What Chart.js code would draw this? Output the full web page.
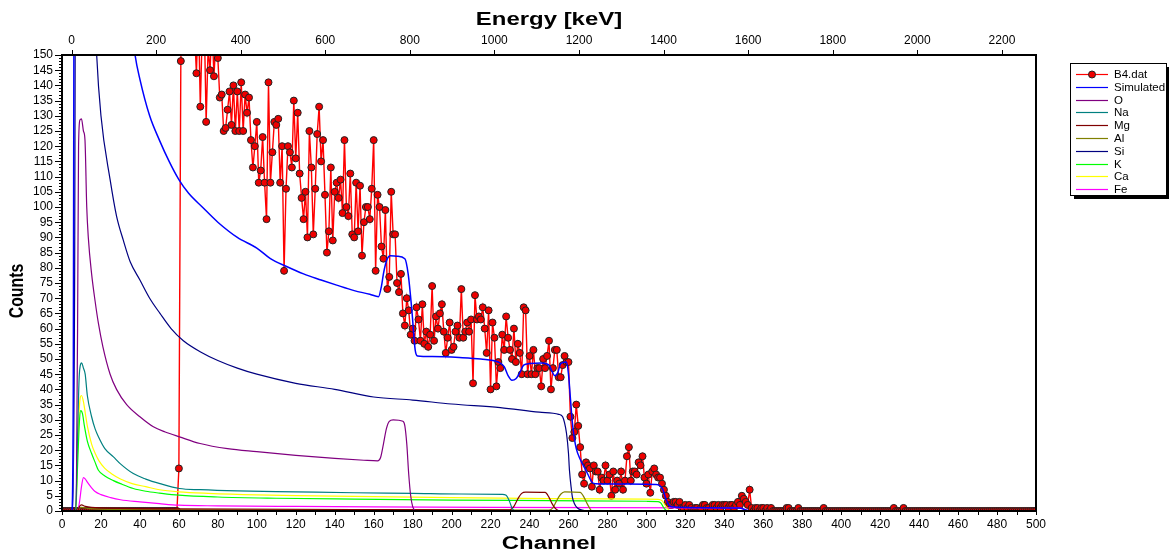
<!DOCTYPE html>
<html>
<head>
<meta charset="utf-8">
<script src="https://cdn.jsdelivr.net/npm/chart.js@4.4.1/dist/chart.umd.min.js"></script>
<style>
  html, body { margin: 0; padding: 0; background: #fff; }
  canvas { display: block; }
</style>
</head>
<body>
<canvas id="spectrum" width="1169" height="557"></canvas>
<script>
const FONT = "'Liberation Sans', Arial, sans-serif";

// B4.dat - measured counts, one value per channel (0..500)
const counts = [
  0,0,0,0,0,0,0,0,0,0, 0,0,0,0,0,0,0,0,0,0,
  0,0,0,0,0,0,0,0,0,0, 0,0,0,0,0,0,0,0,0,0,
  0,0,0,0,0,0,0,0,0,0, 0,0,0,0,0,0,0,0,0,0,
  14,148,175,190,168,182,160,172,158,144, 165,133,158,162,128,152,145,160,143,155,
  149,136,137,125,126,132,138,127,140,125, 138,125,141,125,137,131,136,122,113,120,
  128,108,112,123,108,96,141,108,118,128, 127,129,108,120,79,106,120,118,113,135,
  116,131,111,103,96,105,90,125,113,91, 106,124,133,115,122,104,85,92,113,89,
  105,108,103,109,98,122,100,97,111,91, 90,108,92,107,84,95,100,100,96,106,
  122,79,104,100,87,83,99,73,77,105, 91,91,75,72,78,65,61,70,66,58,
  60,56,67,63,56,68,55,59,54,58, 74,56,64,60,65,68,59,52,57,62,
  53,54,59,61,57,73,57,59,62,59, 63,42,71,63,64,63,67,60,52,66,
  40,62,57,41,49,47,58,53,64,57, 53,50,60,49,55,52,45,67,66,45,
  51,45,53,45,47,47,41,50,47,51, 56,40,47,53,53,44,44,48,51,49,
  49,31,24,26,35,28,21,12,9,16, 15,14,8,15,13,13,7,11,10,15,
  10,12,5,13,7,10,9,13,7,10, 18,21,10,13,13,12,16,15,18,11,
  9,12,6,13,14,12,11,11,9,7, 5,3,2,2,3,3,2,3,1,1,
  2,1,2,1,0,1,1,0,1,2, 2,1,1,0,2,2,1,2,1,2,
  2,2,1,2,2,1,2,3,2,5, 4,3,2,7,1,0,1,1,0,1,
  1,0,1,0,1,0,0,0,0,0, 0,0,1,1,0,0,0,0,1,0,
  0,0,0,0,0,0,0,0,0,0, 0,1,0,0,0,0,0,0,0,0,
  0,0,0,0,0,0,0,0,0,0, 0,0,0,0,0,0,0,0,0,0,
  0,0,0,0,0,0,0,1,0,0, 0,0,1,0,0,0,0,0,0,0,
  0,0,0,0,0,0,0,0,0,0, 0,0,0,0,0,0,0,0,0,0,
  0,0,0,0,0,0,0,0,0,0, 0,0,0,0,0,0,0,0,0,0,
  0,0,0,0,0,0,0,0,0,0, 0,0,0,0,0,0,0,0,0,0,
  0
];
const channels = counts.map((_, i) => i);

// simulated total
const simCh  = [0, 5, 5.8, 6.5, 7.5, 9, 12, 16, 20, 25,
                30, 34, 37.5, 40, 45, 50, 55, 60, 65, 72,
                80, 90, 100, 107, 115, 124, 133, 141, 150, 158,
                162.5, 164, 165, 166, 167, 168.5, 172, 176, 177.7, 179.6,
                181.3, 182.5, 190, 204, 215, 224, 227, 229, 231, 233,
                235, 237, 240, 246, 250, 251.5, 253, 254.5, 256, 259,
                260, 261, 262, 263, 264, 266, 268, 270, 272, 274,
                290, 305, 307, 308.5, 310, 311.5, 314, 330, 348, 350,
                352, 355, 360, 500];
const simCnt = [0, 0, 40, 300, 900, 1200, 900, 600, 420, 280,
                210, 170, 150, 142, 130, 122, 115, 109, 104.5, 100,
                95, 90, 86.5, 83, 80.5, 78, 76, 74.3, 72.5, 71.3,
                70.5, 74, 78, 81, 83, 84, 83.8, 83, 78, 66,
                53, 51, 50.8, 50.5, 50, 49, 47.5, 44.5, 43, 43.5,
                45.5, 48, 48.5, 48.7, 48, 46, 44.5, 45.5, 48.5, 49,
                45, 37, 29, 24, 20.5, 17, 14.5, 12, 9.5, 9,
                8.9, 8.7, 8.3, 7, 4, 2, 1.3, 1.1, 1, 0.6,
                0.2, 0, 0, 0];

// element contributions
const oCh  = [0, 7, 8, 8.5, 9.2, 10, 11, 11.8, 12.7, 13.5, 15.2, 17, 18.7, 21, 24.7, 28, 33.2, 40, 46.9, 53,
              60.3, 70.9, 85, 100, 120, 140, 155, 162, 163.5, 165, 166.5, 168, 170, 175, 176, 177, 178, 179, 180, 181, 182, 500];
const oCnt = [0, 0, 60, 120, 128.6, 129, 125, 122, 100, 90, 78, 69, 61.7, 54, 45, 40, 35, 31, 27.7, 26,
              24.4, 22.2, 20.5, 19.5, 18.3, 17.3, 16.7, 16.5, 17.5, 22, 27, 29.5, 30, 29.5, 28, 22, 12, 5, 1.5, 0.3, 0, 0];

const naCh  = [0, 7, 8, 8.9, 10.1, 11, 11.9, 13, 15.2, 17, 18.7, 22, 26.4, 30, 36.6, 43, 50.3, 60.3, 71, 90,
               120, 150, 180, 205, 226, 228, 229.5, 231, 232, 233, 500];
const naCnt = [0, 0, 25, 45, 48.7, 47, 45, 38, 31, 27, 24.4, 20.5, 17.8, 15.5, 12.3, 10.5, 9, 7.4, 7, 6.6,
               6.3, 6, 5.8, 5.6, 5.5, 5.2, 3.5, 1, 0.2, 0, 0];

const mgCh  = [0, 8, 9, 10, 12, 20, 60, 150, 230, 232, 234, 236, 238, 248, 250, 251.5, 253, 254.5, 256, 500];
const mgCnt = [0, 0, 1.5, 2, 1.5, 1, 0.7, 0.5, 0.4, 1.5, 4, 5.8, 6.2, 6.1, 4.5, 2.5, 1, 0.2, 0, 0];

const alCh  = [0, 8, 9, 10, 14, 30, 100, 250, 252, 254, 256, 258, 266, 268, 269.5, 271, 272, 500];
const alCnt = [0, 0, 1, 1.2, 0.8, 0.5, 0.4, 0.3, 1, 3.5, 5.5, 6.3, 6.1, 4.5, 2.5, 0.8, 0, 0];

const siCh  = [0, 5.5, 6.5, 7.3, 9, 12, 15, 17.8, 20, 24.7, 28, 31.5, 35, 40, 45, 50.3, 56, 62.3, 70.9, 80,
               90, 100, 120, 140, 160, 180, 200, 225, 245, 255, 257, 258, 259, 260, 260.5, 261.5, 262, 263, 264.6, 267,
               271, 500];
const siCnt = [0, 0, 80, 300, 500, 320, 200, 150, 130, 109, 97, 89, 82, 76, 70, 65, 60, 56, 52.4, 49.5,
               47, 45, 42, 40, 37.5, 36.5, 35.2, 34, 32.5, 31.8, 31, 29, 25.5, 19, 13.4, 7, 4.6, 2.5, 1, 0.3,
               0, 0];

const kCh  = [0, 7, 8, 9, 9.6, 10.5, 11.5, 13, 15.2, 17, 18.7, 22, 26.4, 30, 36.6, 43, 50, 60, 80, 110,
              150, 200, 250, 300, 306, 307.5, 308.5, 309.6, 311, 500];
const kCnt = [0, 0, 15, 30, 33, 32, 28, 23, 18.9, 16, 13.4, 11.5, 10, 9, 7.4, 6.5, 5.9, 5.2, 4.6, 4.2,
              3.9, 3.6, 3.4, 3.2, 3.1, 2.6, 1.5, 0.5, 0, 0];

const caCh  = [0, 7, 8, 9, 10, 11, 12, 13, 15.2, 17, 19, 22, 26, 30, 36, 43, 50, 60, 75, 100,
               130, 160, 200, 250, 300, 306, 308, 309.5, 311, 312, 313, 500];
const caCnt = [0, 0, 20, 35, 38, 36, 32, 28, 22, 19, 16.5, 14, 12, 10.5, 9, 8, 7, 6.3, 5.8, 5.3,
               5, 4.7, 4.4, 4.1, 3.9, 3.85, 3.4, 2, 0.7, 0.1, 0, 0];

const feCh  = [0, 8, 9, 10, 11, 12, 13, 15, 17, 20, 25, 30, 40, 50, 60, 80, 120, 160, 220, 280,
               340, 348, 350, 352, 354, 500];
const feCnt = [0, 0, 3, 8, 11, 10.5, 9.5, 7.8, 6.4, 5.4, 4.4, 3.7, 3, 2.4, 1.9, 1.7, 1.5, 1.35, 1.2, 1.1,
               1.05, 1, 0.6, 0.2, 0, 0];

// channel -> energy calibration of the top axis
const energyAtCh0 = -22.5;
const energyAtCh500 = 2280.5;

function pts(xs, ys) {
  return xs.map((x, i) => ({ x: x, y: ys[i] }));
}

function curve(label, color, xs, ys, width) {
  return {
    label: label,
    data: pts(xs, ys),
    borderColor: color,
    backgroundColor: color,
    borderWidth: width || 1.2,
    pointRadius: 0,
    cubicInterpolationMode: 'monotone',
    fill: false
  };
}

// ticks + frame drawn over the plot
const frameTicks = {
  id: 'frameTicks',
  afterDraw(chart) {
    const { ctx, chartArea: a, scales } = chart;
    ctx.save();
    ctx.strokeStyle = '#000';
    ctx.lineWidth = 1;
    ctx.beginPath();
    for (let v = 0; v <= 150; v++) {
      const y = Math.round(scales.y.getPixelForValue(v)) + 0.5;
      const len = v % 5 === 0 ? 7 : 3;
      ctx.moveTo(a.left - len, y);
      ctx.lineTo(a.left, y);
    }
    for (let c = 0; c <= 500; c += 10) {
      const x = Math.round(scales.x.getPixelForValue(c)) + 0.5;
      ctx.moveTo(x, a.bottom);
      ctx.lineTo(x, a.bottom + 4);
    }
    for (let e = 0; e <= 2200; e += 200) {
      const x = Math.round(scales.x2.getPixelForValue(e)) + 0.5;
      ctx.moveTo(x, a.top);
      ctx.lineTo(x, a.top - 5);
    }
    ctx.stroke();
    ctx.lineWidth = 2;
    ctx.strokeRect(a.left, a.top, a.right - a.left, a.bottom - a.top);
    ctx.restore();
  }
};

// axis titles (the original is a little stretched sideways)
const axisTitles = {
  id: 'axisTitles',
  afterDraw(chart) {
    const { ctx, chartArea: a } = chart;
    const cx = (a.left + a.right) / 2;
    ctx.save();
    ctx.fillStyle = '#000';
    ctx.textAlign = 'center';
    ctx.textBaseline = 'middle';
    ctx.font = 'bold 18px ' + FONT;
    [['Channel', 544], ['Energy [keV]', 20]].forEach(([t, y]) => {
      ctx.save();
      ctx.translate(cx, y);
      ctx.scale(1.33, 1);
      ctx.fillText(t, 0, 0);
      ctx.restore();
    });
    ctx.translate(17, 291);
    ctx.rotate(-Math.PI / 2);
    ctx.scale(0.79, 1);
    ctx.font = 'bold 20px ' + FONT;
    ctx.fillText('Counts', 0, 0);
    ctx.restore();
  }
};

// boxed legend with drop shadow, right of the plot
const boxLegend = {
  id: 'boxLegend',
  afterDraw(chart) {
    const ctx = chart.ctx;
    const x = 1070, y = 63, w = 96, h = 132;
    ctx.save();
    ctx.fillStyle = '#000';
    ctx.fillRect(x + 4, y + 4, w, h);
    ctx.fillStyle = '#fff';
    ctx.fillRect(x, y, w, h);
    ctx.strokeStyle = '#000';
    ctx.lineWidth = 1;
    ctx.strokeRect(x + 0.5, y + 0.5, w, h);
    ctx.font = '11.5px ' + FONT;
    ctx.textBaseline = 'middle';
    ctx.textAlign = 'left';
    chart.data.datasets.forEach((ds, i) => {
      const ly = Math.round(y + 11 + i * 12.8) + 0.5;
      ctx.strokeStyle = ds.borderColor;
      ctx.lineWidth = 1.2;
      ctx.beginPath();
      ctx.moveTo(x + 6, ly);
      ctx.lineTo(x + 38, ly);
      ctx.stroke();
      if (ds.pointRadius) {
        ctx.beginPath();
        ctx.arc(x + 22, ly, ds.pointRadius, 0, Math.PI * 2);
        ctx.fillStyle = ds.pointBackgroundColor;
        ctx.fill();
        ctx.strokeStyle = ds.pointBorderColor;
        ctx.lineWidth = 1;
        ctx.stroke();
      }
      ctx.fillStyle = '#000';
      ctx.fillText(ds.label, x + 44, ly);
    });
    ctx.restore();
  }
};

const tickFont = { family: FONT, size: 12 };
const plainNumber = v => String(v);

new Chart(document.getElementById('spectrum'), {
  type: 'line',
  data: {
    datasets: [
      {
        label: 'B4.dat',
        data: pts(channels, counts),
        borderColor: '#ff0000',
        borderWidth: 1.4,
        pointRadius: 3.5,
        pointBackgroundColor: '#ee0000',
        pointBorderColor: '#222',
        pointBorderWidth: 1,
        tension: 0,
        order: 1
      },
      curve('Simulated', '#0000ff', simCh, simCnt, 1.5),
      curve('O', '#800080', oCh, oCnt),
      curve('Na', '#008080', naCh, naCnt),
      curve('Mg', '#800000', mgCh, mgCnt),
      curve('Al', '#808000', alCh, alCnt),
      curve('Si', '#000080', siCh, siCnt),
      curve('K', '#00ff00', kCh, kCnt),
      curve('Ca', '#ffff00', caCh, caCnt),
      curve('Fe', '#ff00ff', feCh, feCnt)
    ]
  },
  options: {
    responsive: false,
    animation: false,
    events: [],
    layout: { padding: { left: 0, top: 0, bottom: 0, right: 133 } },
    plugins: { legend: { display: false }, tooltip: { enabled: false } },
    scales: {
      x: {
        type: 'linear',
        position: 'bottom',
        min: 0,
        max: 500,
        afterFit(s) { s.height = 46; },
        border: { display: false },
        grid: { display: false, drawTicks: true, tickLength: 4 },
        ticks: {
          stepSize: 20, autoSkip: false, maxRotation: 0, padding: 2,
          color: '#000', font: tickFont, callback: plainNumber
        }
      },
      x2: {
        type: 'linear',
        position: 'top',
        min: energyAtCh0,
        max: energyAtCh500,
        afterFit(s) { s.height = 55; },
        border: { display: false },
        grid: { display: false, drawTicks: true, tickLength: 5 },
        ticks: {
          stepSize: 200, includeBounds: false, autoSkip: false, maxRotation: 0, padding: 2,
          color: '#000', font: tickFont, callback: plainNumber
        }
      },
      y: {
        type: 'linear',
        min: 0,
        max: 150,
        afterFit(s) { s.width = 62; },
        border: { display: false },
        grid: { display: false, drawTicks: true, tickLength: 7 },
        ticks: {
          stepSize: 5, autoSkip: false, padding: 2,
          color: '#000', font: tickFont, callback: plainNumber
        }
      }
    }
  },
  plugins: [frameTicks, axisTitles, boxLegend]
});
</script>
</body>
</html>
